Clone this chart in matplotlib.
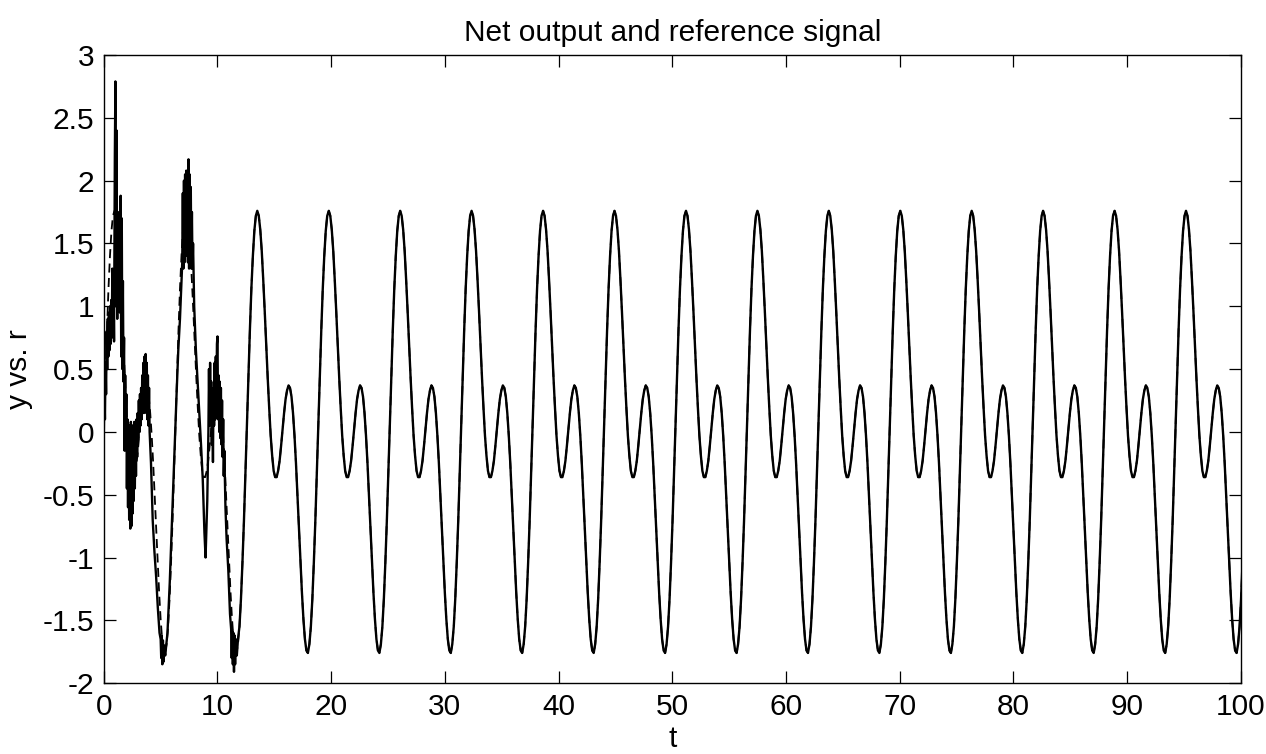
"""Net output and reference signal"""
import numpy as np
import matplotlib
matplotlib.use('Agg')
import matplotlib.pyplot as plt

plt.rcParams['font.family'] = ['Liberation Sans', 'DejaVu Sans']

cycle_step = 0.1309
cycle_vals = [1.76, 1.72, 1.61, 1.44, 1.21, 0.96, 0.69, 0.43, 0.19, -0.03, -0.19, -0.31,
              -0.36, -0.36, -0.31, -0.23, -0.11, 0.02, 0.15, 0.26, 0.33, 0.37, 0.35, 0.28,
              0.15, -0.03, -0.25, -0.51, -0.77, -1.04, -1.28, -1.49, -1.65, -1.74, -1.76, -1.69,
              -1.55, -1.33, -1.04, -0.71, -0.33, 0.06, 0.45, 0.81, 1.14, 1.40, 1.60, 1.72]
# times of the big peaks of r along t
peak_times = [-5.35, 0.94, 7.22, 13.50, 19.79, 26.07, 32.35, 38.64, 44.92, 51.21,
              57.49, 63.77, 70.06, 76.34, 82.62, 88.91, 95.19]

# net output y during the start-up transient
trans_t = [0.00, 0.05, 0.10, 0.15, 0.20, 0.25, 0.30, 0.35, 0.40, 0.45, 0.50, 0.55, 0.60, 0.65,
           0.70, 0.75, 0.80, 0.85, 0.90,
           0.97, 1.02, 1.07, 1.12, 1.18, 1.25, 1.30, 1.36, 1.42, 1.48, 1.53, 1.58, 1.63, 1.68,
           1.73, 1.78,
           1.83, 1.88, 1.93, 1.98, 2.03, 2.08, 2.13, 2.18, 2.23, 2.28, 2.33, 2.38, 2.43, 2.48,
           2.53, 2.58, 2.63, 2.68, 2.73, 2.78, 2.83, 2.88, 2.93, 2.98,
           3.03, 3.08, 3.13, 3.18, 3.23, 3.28, 3.33, 3.38, 3.43, 3.48, 3.53, 3.58, 3.63, 3.68,
           3.73, 3.78, 3.83, 3.88, 3.93, 3.98, 4.03,
           4.15, 4.30, 4.45, 4.60, 4.75, 4.90, 5.00, 5.05, 5.10, 5.15, 5.20, 5.25, 5.30, 5.40,
           5.60, 5.80, 6.00, 6.20, 6.40, 6.55, 6.70, 6.85,
           6.90, 6.95, 7.00, 7.05, 7.10, 7.15, 7.20, 7.25, 7.30, 7.35, 7.40, 7.45, 7.50, 7.55,
           7.60, 7.65, 7.70, 7.75, 7.80, 7.85,
           7.95, 8.10, 8.25, 8.40, 8.55, 8.70, 8.85, 8.95,
           9.10, 9.20, 9.25, 9.30, 9.35, 9.40, 9.45, 9.50, 9.55, 9.60, 9.65, 9.70, 9.75, 9.80,
           9.85, 9.90, 9.95, 10.00, 10.05, 10.10, 10.15, 10.20, 10.25, 10.30, 10.35, 10.40,
           10.45, 10.50, 10.55, 10.60, 10.70, 10.80,
           10.95, 11.10, 11.20, 11.25, 11.30, 11.35, 11.40, 11.45, 11.50, 11.55, 11.60, 11.70,
           11.80]
trans_y = [0.00, 0.35, 0.10, 0.55, 0.30, 0.80, 0.50, 0.90, 0.60, 0.95, 0.65, 1.00, 0.70, 1.05,
           0.75, 1.30, 0.85, 1.10, 0.72,
           2.20, 2.79, 1.00, 2.40, 0.90, 1.75, 1.00, 1.50, 0.95, 1.88, 0.60, 1.70, 0.50, 1.20,
           0.40, 0.75,
           -0.15, 0.45, -0.10, 0.30, -0.45, 0.10, -0.60, 0.05, -0.70, 0.05, -0.77, 0.08, -0.75,
           0.05, -0.65, 0.05, -0.55, 0.08, -0.45, 0.06, -0.35, 0.10, -0.20, 0.15,
           -0.05, 0.25, 0.00, 0.30, 0.05, 0.35, 0.10, 0.45, 0.15, 0.55, 0.15, 0.60, 0.20, 0.62,
           0.15, 0.55, 0.10, 0.45, 0.05, 0.35, 0.00,
           -0.25, -0.70, -0.95, -1.15, -1.40, -1.60, -1.65, -1.80, -1.62, -1.85, -1.66, -1.83,
           -1.70, -1.78,
           -1.60, -1.20, -0.70, -0.20, 0.30, 0.65, 0.90, 1.25,
           1.35, 1.90, 1.30, 2.00, 1.35, 2.05, 1.40, 2.08, 1.45, 2.05, 1.35, 2.17, 1.30, 2.05,
           1.35, 1.95, 1.30, 1.75, 1.30, 1.50,
           1.00, 0.65, 0.40, 0.15, -0.10, -0.37, -0.80, -1.00,
           -0.55, 0.00, 0.50, 0.05, 0.55, 0.10, 0.40, -0.10, 0.30, -0.24, 0.35, 0.05, 0.55, 0.10,
           0.60, 0.15, 0.70, 0.76, 0.10, 0.45, 0.00, 0.40, -0.05, 0.35, -0.10, 0.25,
           -0.20, 0.10, -0.35, -0.15, -0.60, -0.85,
           -1.10, -1.45, -1.57, -1.80, -1.58, -1.85, -1.60, -1.91, -1.62, -1.85, -1.65, -1.78,
           -1.65]
settle_t = 11.9  # from here on y sits on top of r

y_ticks = [-2, -1.5, -1, -0.5, 0, 0.5, 1, 1.5, 2, 2.5, 3]
y_ticklabels = ['-2', '-1.5', '-1', '-0.5', '0', '0.5', '1', '1.5', '2', '2.5', '3']
x_ticks = [0, 10, 20, 30, 40, 50, 60, 70, 80, 90, 100]

# reference: the read cycle placed at every peak
r_t = np.concatenate([p + cycle_step * np.arange(len(cycle_vals)) for p in peak_times])
r_v = np.tile(cycle_vals, len(peak_times))

later = r_t >= settle_t
y_t = np.concatenate([trans_t, r_t[later]])
y_v = np.concatenate([trans_y, r_v[later]])

fig = plt.figure(figsize=(12.66, 7.54), dpi=100)
ax = fig.add_axes([0.082, 0.094, 0.898, 0.833])

ax.plot(r_t, r_v, color='black', linewidth=1.3, linestyle=(0, (5, 3)))
ax.plot(y_t, y_v, color='black', linewidth=1.7)

ax.set_xlim(0, 100)
ax.set_ylim(-2, 3)
ax.set_xticks(x_ticks)
ax.set_yticks(y_ticks)
ax.set_yticklabels(y_ticklabels)
ax.tick_params(direction='in', top=True, right=True, length=8.5, width=0.9,
               labelsize=21.5, pad=7)
for s in ax.spines.values():
    s.set_linewidth(1.0)

ax.set_title('Net output and reference signal', fontsize=21.5, pad=10)
ax.set_xlabel('t', fontsize=21.5)
ax.set_ylabel('y vs. r', fontsize=21.5)
ax.xaxis.set_label_coords(0.5, -0.066)
ax.yaxis.set_label_coords(-0.062, 0.5)

plt.savefig('out.png', dpi=100)
plt.close()
